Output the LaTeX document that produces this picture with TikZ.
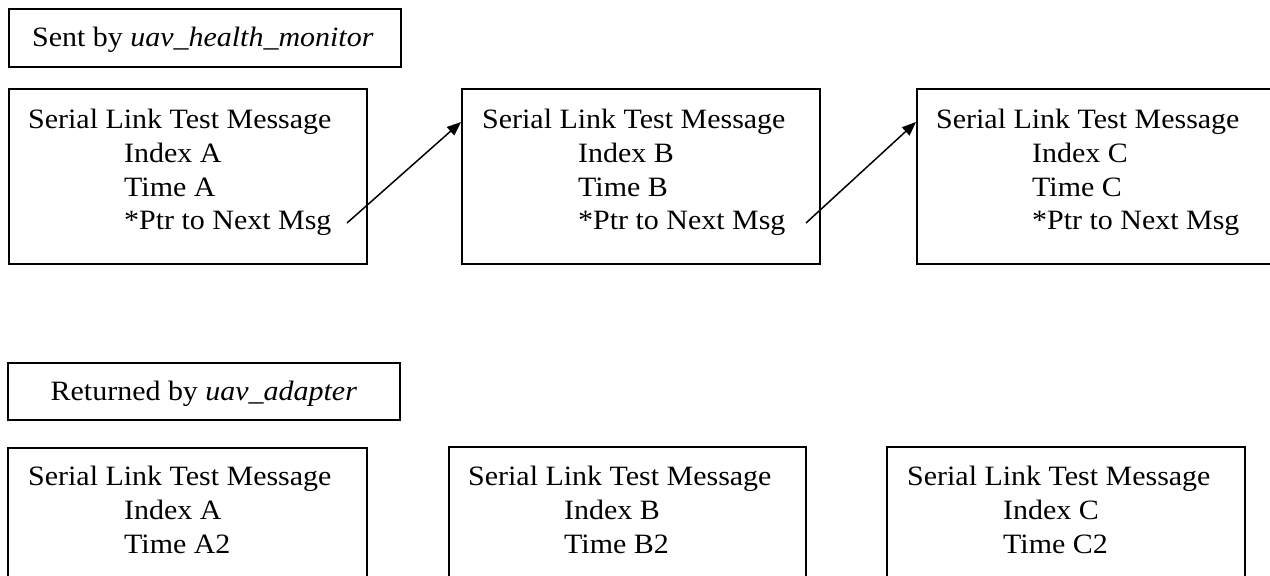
\documentclass[tikz,border=0pt]{standalone}
\usepackage{fontspec}
\setmainfont{Liberation Serif}[FakeStretch=1.07]
\usetikzlibrary{arrows.meta,calc}

\tikzset{
  msgbox/.style={draw, line width=1.7pt, rectangle, inner sep=0pt,
                 anchor=north west},
  msgline/.style={anchor=base west, inner sep=0pt,
                  font=\fontsize{28}{33}\selectfont},
  caption/.style={msgbox, font=\fontsize{28}{33}\selectfont},
  link/.style={line width=1.5pt, -{Triangle[length=14pt,width=11pt]}}
}

\begin{document}
\begin{tikzpicture}[x=1pt, y=-1pt]
  \useasboundingbox (0,0) rectangle (1270,576);

  % ---- outgoing messages ----
  \node[caption, minimum width=392pt, minimum height=58pt] (sent) at (8,8) {};
  \node[anchor=base, inner sep=0pt, font=\fontsize{28}{33}\selectfont]
       (senttxt) at ($(sent.north)+(-2,38)$) {Sent by \textit{uav\_health\_monitor}};

  \node[msgbox, minimum width=358pt, minimum height=175pt] (ta) at (8,88) {};
  \node[msgbox, minimum width=358pt, minimum height=175pt] (tb) at (461,88) {};
  \node[msgbox, minimum width=358pt, minimum height=175pt] (tc) at (916,88) {};

  \node[msgline] (ta1) at (28,128)  {Serial Link Test Message};
  \node[msgline] (ta2) at (124,162) {Index A};
  \node[msgline] (ta3) at (124,196) {Time A};
  \node[msgline] (ta4) at (124,229) {*Ptr to Next Msg};

  \node[msgline] (tb1) at (482,128) {Serial Link Test Message};
  \node[msgline] (tb2) at (578,162) {Index B};
  \node[msgline] (tb3) at (578,196) {Time B};
  \node[msgline] (tb4) at (578,229) {*Ptr to Next Msg};

  \node[msgline] (tc1) at (936,128)  {Serial Link Test Message};
  \node[msgline] (tc2) at (1032,162) {Index C};
  \node[msgline] (tc3) at (1032,196) {Time C};
  \node[msgline] (tc4) at (1032,229) {*Ptr to Next Msg};

  % pointer links to the next message
  \coordinate (pa) at (347,223);
  \coordinate (pb) at (806,223);
  \coordinate (inb) at ($(tb.north west)+(0,34)$);
  \coordinate (inc) at ($(tc.north west)+(0,34)$);
  \draw[link] (pa) -- (inb);
  \draw[link] (pb) -- (inc);

  % ---- returned messages ----
  \node[caption, minimum width=392pt, minimum height=57pt] (ret) at (7,362) {};
  \node[anchor=base, inner sep=0pt, font=\fontsize{28}{33}\selectfont]
       (rettxt) at ($(ret.north)+(0,38)$) {Returned by \textit{uav\_adapter}};

  \node[msgbox, minimum width=359pt, minimum height=140pt] (ba) at (7,447) {};
  \node[msgbox, minimum width=357pt, minimum height=140pt] (bb) at (448,446) {};
  \node[msgbox, minimum width=358pt, minimum height=140pt] (bc) at (886,446) {};

  \node[msgline] (ba1) at (28,485)  {Serial Link Test Message};
  \node[msgline] (ba2) at (124,519) {Index A};
  \node[msgline] (ba3) at (124,553) {Time A2};

  \node[msgline] (bb1) at (468,485) {Serial Link Test Message};
  \node[msgline] (bb2) at (564,519) {Index B};
  \node[msgline] (bb3) at (564,553) {Time B2};

  \node[msgline] (bc1) at (907,485)  {Serial Link Test Message};
  \node[msgline] (bc2) at (1003,519) {Index C};
  \node[msgline] (bc3) at (1003,553) {Time C2};
\end{tikzpicture}
\end{document}
